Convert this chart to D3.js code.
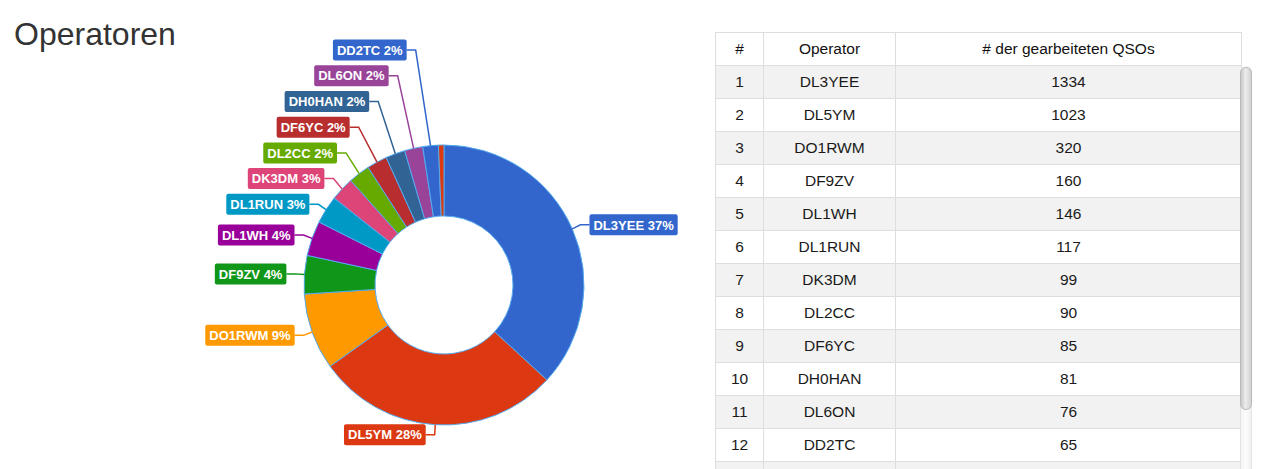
<!DOCTYPE html>
<html>
<head>
<meta charset="utf-8">
<script src="https://cdn.jsdelivr.net/npm/d3@7"></script>
<style>
  body { margin: 0; width: 1263px; height: 469px; overflow: hidden; background: #fff;
         font-family: "Liberation Sans", Arial, sans-serif; position: relative; }
  #chart { position: absolute; left: 0; top: 0; }
  #tablebox { position: absolute; left: 715px; top: 32px; width: 540px; height: 437px; overflow: hidden; }
  table { border-collapse: collapse; table-layout: fixed; width: 526px; font-size: 15.5px; color: #1a1a1a; }
  th, td { border: 1px solid #dedede; height: 32px; padding: 0; text-align: center; font-weight: normal; }
  th { color: #111; background: #fff; }
  tbody tr:nth-child(odd) td { background: #f2f2f2; }
  .track { position: absolute; left: 525px; top: 34px; width: 12px; height: 410px;
           background: linear-gradient(to right, #f4f4f4, #fdfdfd 50%, #f0f0f0);
           border-left: 1px solid #e4e4e4; border-right: 1px solid #e4e4e4; border-radius: 6px; box-sizing: border-box; }
  .thumb { position: absolute; left: 525px; top: 35px; width: 12px; height: 343px;
           background: linear-gradient(to right, #c9c9c9, #ececec 45%, #d2d2d2);
           border: 1px solid #b9b9b9; border-radius: 6px; box-sizing: border-box; }
</style>
</head>
<body>
<svg id="chart" width="1263" height="469"></svg>
<div id="tablebox"></div>
<script>
  var operators = ["DL3YEE", "DL5YM", "DO1RWM", "DF9ZV", "DL1WH", "DL1RUN", "DK3DM",
                   "DL2CC", "DF6YC", "DH0HAN", "DL6ON", "DD2TC", "Weitere"];
  var qsos = [1334, 1023, 320, 160, 146, 117, 99, 90, 85, 81, 76, 65, 23];
  var headers = ["#", "Operator", "# der gearbeiteten QSOs"];
  var palette = ["#3366cc", "#dc3912", "#ff9900", "#109618", "#990099", "#0099c6",
                 "#dd4477", "#66aa00", "#b82e2e", "#316395", "#994499"];

  var svg = d3.select("#chart");
  svg.append("text").attr("x", 14).attr("y", 45)
     .attr("font-size", 32).attr("fill", "#333").text("Operatoren");

  var cx = 444, cy = 285, R = 140, r0 = 69;
  var color = (i) => palette[i % palette.length];
  var total = d3.sum(qsos);
  var arcs = d3.pie().sort(null).value((d) => d)(qsos);
  var arc = d3.arc().innerRadius(r0).outerRadius(R);

  var g = svg.append("g").attr("transform", "translate(" + cx + "," + cy + ")");
  g.selectAll("path.slice").data(arcs).enter().append("path")
   .attr("class", "slice").attr("d", arc)
   .attr("fill", (d, i) => color(i))
   .attr("stroke", "#55aaee").attr("stroke-width", 1);

  // labels: place on the side, push upward when they would overlap
  var labels = arcs.map(function (a, i) {
      var mid = (a.startAngle + a.endAngle) / 2;
      return { i: i, mid: mid, s: Math.sin(mid), c: Math.cos(mid),
               frac: a.value / total,
               text: operators[i] + " " + Math.round(a.value / total * 100) + "%" };
  }).filter((l) => l.frac >= 0.01);

  labels.forEach(function (l) {
      l.side = l.s >= 0 ? 1 : -1;
      l.y0 = -l.c * (R + 10);
      l.y = l.y0;
  });
  var left = labels.filter((l) => l.side < 0).sort((a, b) => a.mid - b.mid);
  for (var k = 1; k < left.length; k++) {
      left[k].y = Math.min(left[k].y, left[k - 1].y - 25.7);
  }
  labels.forEach(function (l) {
      var push = l.y0 - l.y;
      l.ex = l.s * R; l.ey = -l.c * R;
      l.bx = l.ex + 9 * l.s + l.side * Math.min(push * 0.6, 14);
      l.tx = l.bx + l.side * 9;
  });

  var lg = g.selectAll("g.lab").data(labels).enter().append("g").attr("class", "lab");
  lg.append("path")
    .attr("d", (l) => "M" + l.ex + "," + l.ey + "L" + l.bx + "," + l.y + "L" + l.tx + "," + l.y)
    .attr("fill", "none").attr("stroke", (l) => color(l.i)).attr("stroke-width", 1.5);
  var rects = lg.append("rect").attr("fill", (l) => color(l.i)).attr("rx", 2);
  var texts = lg.append("text").text((l) => l.text)
    .attr("font-size", 13).attr("font-weight", "bold").attr("fill", "#fff")
    .attr("dy", "0.36em").attr("y", (l) => l.y);
  texts.each(function (l) {
      var w = this.getComputedTextLength();
      l.w = w + 8;
      l.x0 = l.side > 0 ? l.tx : l.tx - l.w;
      d3.select(this).attr("x", l.x0 + 4);
  });
  rects.attr("x", (l) => l.x0).attr("y", (l) => l.y - 10.5)
       .attr("width", (l) => l.w).attr("height", 21);

  // table
  var box = d3.select("#tablebox");
  var table = box.append("table");
  var cg = table.append("colgroup");
  [48, 132, 346].forEach((w) => cg.append("col").style("width", w + "px"));
  table.append("thead").append("tr").selectAll("th").data(headers)
       .enter().append("th").text((d) => d);
  var rows = table.append("tbody").selectAll("tr").data(operators)
       .enter().append("tr");
  rows.append("td").text((d, i) => i + 1);
  rows.append("td").text((d) => d);
  rows.append("td").text((d, i) => qsos[i]);

  box.append("div").attr("class", "track");
  box.append("div").attr("class", "thumb");
</script>
</body>
</html>
